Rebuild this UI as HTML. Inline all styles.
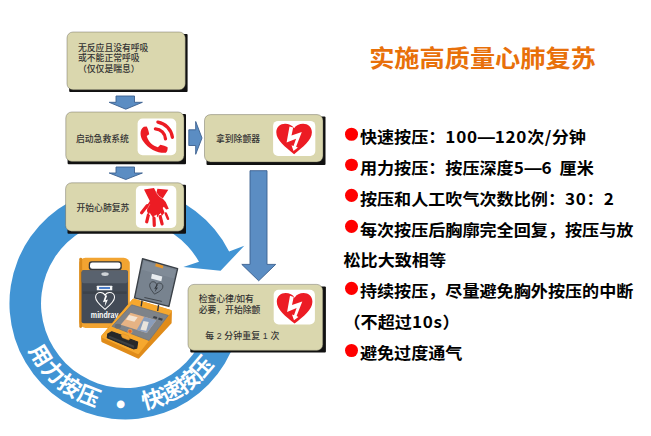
<!DOCTYPE html>
<html lang="zh-CN">
<head>
<meta charset="utf-8">
<title>实施高质量心肺复苏</title>
<style>
html,body{margin:0;padding:0;background:#fff;}
body{width:651px;height:436px;position:relative;overflow:hidden;font-family:"Liberation Sans","Noto Sans CJK SC",sans-serif;}
#art{position:absolute;left:0;top:0;width:651px;height:436px;}
.bx{font-family:"Liberation Sans","Noto Sans CJK SC",sans-serif;font-weight:500;font-size:8.8px;fill:#333;}
.ring{font-family:"Liberation Sans","Noto Sans CJK SC",sans-serif;font-weight:700;font-size:22px;fill:#fff;}
h1{position:absolute;left:340px;top:41px;width:285px;margin:0;text-align:center;font-size:25.200px;line-height:36px;font-weight:700;color:#e8700a;white-space:nowrap;transform:scaleY(0.925);transform-origin:50% 50%;}
ul{position:absolute;left:343.500px;top:123.200px;margin:0;padding:0;list-style:none;width:305px;font-size:17.100px;line-height:32.870px;font-weight:700;color:#000;transform:scaleY(0.94);transform-origin:0 0;}
li{margin:0;padding:0;white-space:nowrap;height:32.870px;}
li i{display:inline-block;width:13px;height:13.800px;border-radius:50%;background:#f00;margin:0 2.200px 0 1.200px;vertical-align:2.500px;}
li b{line-height:0;font-weight:700;letter-spacing:0.700px;font-family:"Noto Sans CJK SC","Liberation Sans",sans-serif;}
li b.s{letter-spacing:0;padding:0 0.300px 0 0.600px;}
</style>
</head>
<body>
<svg id="art" viewBox="0 0 651 436" width="651" height="436">
  <defs>
    <path id="arc" d="M 21.7 331.3 A 107.5 107.5 0 0 0 229.3 331.3"/>
    <path id="arc2" d="M 15.500 303.500 A 110 110 0 0 0 235.500 303.500"/>
  </defs>

  <!-- circular arrow -->
  <g id="ringg" fill="#4194d4">
    <path d="M 229.1 251.4 A 116 116 0 1 0 235.8 339.3 L 205.9 329.6 A 84.5 84.5 0 1 1 199.0 261.8 L 183.4 267.1 L 220.6 270.8 L 244.3 245.8 Z"/>
  </g>


  <!-- AED devices -->
  <g id="aed-closed" transform="translate(70,245) scale(0.20619)">
    <rect x="45" y="62" width="245" height="340" rx="30" fill="#f2a431"/>
    <rect x="45" y="62" width="14" height="340" rx="7" fill="#d98a1c"/>
    <rect x="91" y="79" width="160" height="43" rx="14" fill="#33363a"/>
    <rect x="97" y="85" width="148" height="30" rx="11" fill="#fff"/>
    <rect x="56" y="123" width="225" height="257" rx="10" fill="#434b57"/>
    <rect x="56" y="123" width="225" height="62" rx="10" fill="#59626e"/>
    <rect x="62" y="225" width="213" height="12" fill="#3b424b"/>
    <ellipse cx="170" cy="141" rx="18" ry="9" fill="#cfd3d7"/>
    <rect x="130" y="198" width="75" height="22" rx="2" fill="#f3f5f7"/>
    <rect x="141" y="204" width="53" height="9" fill="#3f73c4"/>
    <path d="M170 312 C 150 295, 124 276, 124 254 C 124 238, 136 230, 148 230 C 158 230, 166 235, 170 244 C 174 235, 182 230, 192 230 C 204 230, 216 238, 216 254 C 216 276, 190 295, 170 312 Z" fill="none" stroke="#fff" stroke-width="5"/>
    <polygon points="172,242 180,246 172,268 184,264 168,300 172,274 160,278" fill="#fff"/>
    <text x="168" y="354" text-anchor="middle" textLength="134" lengthAdjust="spacingAndGlyphs" font-family="Liberation Sans, sans-serif" font-weight="700" font-size="40" fill="#fff">mindray</text>
  </g>
  <g id="aed-base" transform="translate(98,296) scale(0.15152)">
    <polygon points="235,25 480,100 478,176 266,406 30,298 28,268" fill="#e08c1a" stroke="#e08c1a" stroke-width="16" stroke-linejoin="round"/>
    <polygon points="235,25 480,100 264,376 28,268" fill="#f6a82e" stroke="#f6a82e" stroke-width="14" stroke-linejoin="round"/>
    <polygon points="222,58 464,128 337,294 93,200" fill="#7e8389" stroke="#6c7177" stroke-width="5" stroke-linejoin="round"/>
    <polygon points="215,110 385,160 322,245 150,190" fill="#e6b384"/>
    <polygon points="305,137 385,160 322,245 255,224" fill="#8a9dba"/>
    <polygon points="300,165 335,172 318,230 280,222" fill="#e9e3dc"/>
    <polygon points="205,125 262,140 240,170 185,155" fill="#f3e4d2"/>
    <ellipse cx="131" cy="199" rx="21" ry="16" fill="#6a6f75"/>
    <circle cx="211" cy="233" r="14" fill="#e5672a" stroke="#f3b560" stroke-width="4"/>
    <polygon points="368,132 392,139 386,152 362,145" fill="#3c4046"/>
    <polygon points="402,142 428,150 422,163 396,155" fill="#3c4046"/>
    <polygon points="91,236 152,257 210,284 262,303 256,344 234,349 61,276 64,251" fill="#26282a" stroke="#26282a" stroke-width="7" stroke-linejoin="round"/>
    <polygon points="75,262 240,328 236,343 68,274" fill="#3d4043"/>
    <polygon points="152,257 164,249 201,262 211,284 201,291 161,275" fill="#f0a233" stroke="#d98a1c" stroke-width="3" stroke-linejoin="round"/>
  </g>
  <g id="aed-lid" transform="translate(110,245) scale(0.22923)">
    <polygon points="142,60 295,103 257,268 107,231" fill="#78838f" stroke="#3a4047" stroke-width="6" stroke-linejoin="round"/>
    <polygon points="148,70 287,110 279,146 139,108" fill="#808b97"/>
    <polygon points="200,80 233,90 230,103 197,93" fill="#e8962a"/>
    <polygon points="183,125 228,137 224,158 179,146" fill="#e9edf0"/>
    <g transform="rotate(12 200 187)">
      <path d="M200 215 C 188 205, 171 192, 171 178 C 171 168, 179 163, 186 163 C 192 163, 197 166, 200 172 C 203 166, 208 163, 214 163 C 221 163, 229 168, 229 178 C 229 192, 212 205, 200 215 Z" fill="none" stroke="#2f343a" stroke-width="3"/>
      <polygon points="201,170 206,172 201,186 209,184 199,207 201,190 194,193" fill="#2f343a"/>
    </g>
    <line x1="150" y1="229" x2="226" y2="246" stroke="#3a3f45" stroke-width="4"/>
    <line x1="140" y1="242" x2="136" y2="268" stroke="#2f343a" stroke-width="6"/>
    <line x1="212" y1="260" x2="208" y2="288" stroke="#2f343a" stroke-width="6"/>
  </g>

  <!-- straight arrows -->
  <g fill="#5b8dc3" stroke="#3b608f" stroke-width="0.9" stroke-linejoin="miter">
    <path d="M116 96 H134.5 V102.3 H142.4 L125.8 109.2 L109.2 102.3 H116 Z"/>
    <path d="M116 167 H134.5 V173 H142.4 L125.8 179.5 L109.2 173 H116 Z"/>
    <path d="M188.8 129.8 H195.7 V121.5 L202 138 L195.7 154.3 V145.5 H188.8 Z"/>
    <path d="M250 170.7 H267 V264.4 H275.7 L258.7 280.8 L241.8 264.4 H250 Z"/>
  </g>

  <!-- boxes -->
  <g id="boxes">
    <g fill="#111">
      <rect x="69.2" y="34" width="118.400" height="58" rx="1"/>
      <rect x="67.600" y="114" width="118.400" height="50.200" rx="1"/>
      <rect x="67.500" y="184.800" width="118.500" height="49" rx="1"/>
      <rect x="206.500" y="116.600" width="119" height="48.400" rx="1"/>
      <rect x="190.300" y="286.400" width="135.600" height="66.200" rx="1"/>
    </g>
    <g fill="#dad7ae" stroke="#55534a" stroke-width="0.400">
      <rect x="67" y="32" width="118.300" height="57.800" rx="6"/>
      <rect x="65.800" y="112" width="118.200" height="49.400" rx="6"/>
      <rect x="65.600" y="182.800" width="118.400" height="48.400" rx="6"/>
      <rect x="204.500" y="114.600" width="118.500" height="47.400" rx="6"/>
      <rect x="188" y="284.400" width="134.800" height="66" rx="6"/>
    </g>
  </g>

  <!-- icon plates -->
  <g fill="#fff">
    <rect x="137.600" y="118.600" width="38.600" height="36.600" rx="5"/>
    <rect x="135.900" y="185.700" width="40.400" height="42.300" rx="5"/>
    <rect x="273.100" y="120.900" width="42.200" height="35" rx="5"/>
    <rect x="273.700" y="289.700" width="41.200" height="34.700" rx="5"/>
  </g>


  <!-- icons -->
  <defs>
    <g id="heart">
      <path fill="#ec1c24" d="M17.8 30.4 C 9 23.5, 0 16.5, 0 8.6 C 0 3.4, 4 0, 8.8 0 C 12.6 0, 16 1.6, 17.8 4.6 C 19.6 1.6, 23 0, 26.8 0 C 31.6 0, 35.600 3.4, 35.600 8.6 C 35.600 16.5, 26.6 23.5, 17.8 30.4 Z"/>
      <polygon fill="#fff" points="13.2,2.7 16.9,3.8 15.2,11.8 25.5,8.3 19.8,22.9 21.600,23.8 17.2,27.2 15.2,21.4 17.2,22.2 19.8,14.9 10.3,18.8"/>
    </g>
  </defs>
  <use href="#heart" x="276.300" y="123.750"/>
  <use href="#heart" x="276.800" y="293.100"/>
  <g id="phone" fill="#ec1c24">
    <path d="M 143.9 126.7 L 146.7 126.5 C 148.0 128.600, 148.8 131.7, 149.2 134.2 L 146.7 136.0 C 148.600 142.2, 152.9 145.9, 157.9 147.2 L 160.400 144.7 C 162.8 145.3, 165.9 145.9, 167.600 147.2 C 167.8 149.7, 167.2 151.500, 165.9 152.8 C 158.500 153.400, 148.600 149.7, 143.0 141.0 C 139.9 136.0, 139.3 129.8, 143.9 126.7 Z"/>
    <path d="M 155.400 128.8 A 10.7 10.7 0 0 1 165.500 138.8" fill="none" stroke="#ec1c24" stroke-width="3.300" stroke-linecap="round"/>
    <path d="M 157.9 122.1 A 17.7 17.7 0 0 1 172.400 137.3" fill="none" stroke="#ec1c24" stroke-width="3.300" stroke-linecap="round"/>
  </g>
  <g id="hands" fill="#ec1c24" stroke="#ec1c24" stroke-linecap="round">
    <polygon stroke="none" points="144.0,189.5 154.0,188.0 156.4,192.7 157.4,188.7 168.3,189.8 162.7,198.6 165.7,201.9 168.8,208.8 166.2,209.5 163.8,206.7 162.7,208.1 164.6,212.5 162.0,215.7 159.3,214.1 157.7,217.2 155.1,215.1 153.0,217.8 150.9,214.6 148.8,214.1 147.2,212.0 146.7,206.7 148.2,203.5 149.8,200.9"/>
    <line x1="147.3" y1="205.6" x2="141.6" y2="212.7" stroke-width="3.2"/>
    <line x1="148.4" y1="214.8" x2="146.7" y2="221.8" stroke-width="3.2"/>
    <line x1="154.0" y1="218.0" x2="154.3" y2="225.4" stroke-width="3.2"/>
    <line x1="160.2" y1="216.5" x2="162.1" y2="223.9" stroke-width="3.2"/>
    <line x1="165.8" y1="213.5" x2="168.0" y2="218.8" stroke-width="2.5"/>
    <path d="M 156.4 192.7 Q 158.5 196.9 162.9 198.8" fill="none" stroke="#fff" stroke-width="0.5"/>
    <path d="M 149.600 204.500 L 146.800 209.800" fill="none" stroke="#fff" stroke-width="0.35"/>
    <g stroke="none" fill="#fff">
      <polygon points="148.9,214.8 150.8,214.8 149.8,212.5"/>
      <polygon points="155.4,216.5 157.3,216.5 156.4,214.2"/>
      <polygon points="159.6,215.0 161.5,215.0 160.6,212.7"/>
      <polygon points="164.3,211.6 166.2,211.6 165.2,209.3"/>
    </g>
  </g>

  <!-- box text -->
  <g class="bx">
    <text x="78" y="51.100">无反应且没有呼吸</text>
    <text x="78" y="61.300">或不能正常呼吸</text>
    <text x="78" y="71.800">（仅仅是喘息）</text>
    <text x="76" y="142.300">启动急救系统</text>
    <text x="76.500" y="211">开始心肺复苏</text>
    <text x="216" y="141.800">拿到除颤器</text>
    <text x="198.700" y="302.300">检查心律/如有</text>
    <text x="198.700" y="312.700">必要，开始除颤</text>
    <text x="205.200" y="338.800" letter-spacing="0.15">每 2 分钟重复 1 次</text>
  </g>

  <!-- ring text -->
  <text class="ring" letter-spacing="1"><textPath href="#arc" startOffset="19.8">用力按压</textPath></text>
  <text class="ring" text-anchor="middle" style="font-size:27px"><textPath href="#arc2" startOffset="167.200">•</textPath></text>
  <text class="ring" letter-spacing="-0.8"><textPath href="#arc" startOffset="159">快速按压</textPath></text>
</svg>

<h1>实施高质量心肺复苏</h1>
<ul>
  <li><i></i>快速按压：<b>100</b>—<b>120</b>次<b class="s">/</b>分钟</li>
  <li style="word-spacing:2.400px"><i></i>用力按压：按压深度<b>5</b>—<b>6</b> 厘米</li>
  <li><i></i>按压和人工吹气次数比例：<b>30</b>：<b>2</b></li>
  <li><i></i>每次按压后胸廓完全回复，按压与放</li>
  <li>松比大致相等</li>
  <li><i></i>持续按压，尽量避免胸外按压的中断</li>
  <li>（不超过<b>10s</b>）</li>
  <li><i></i>避免过度通气</li>
</ul>
</body>
</html>
